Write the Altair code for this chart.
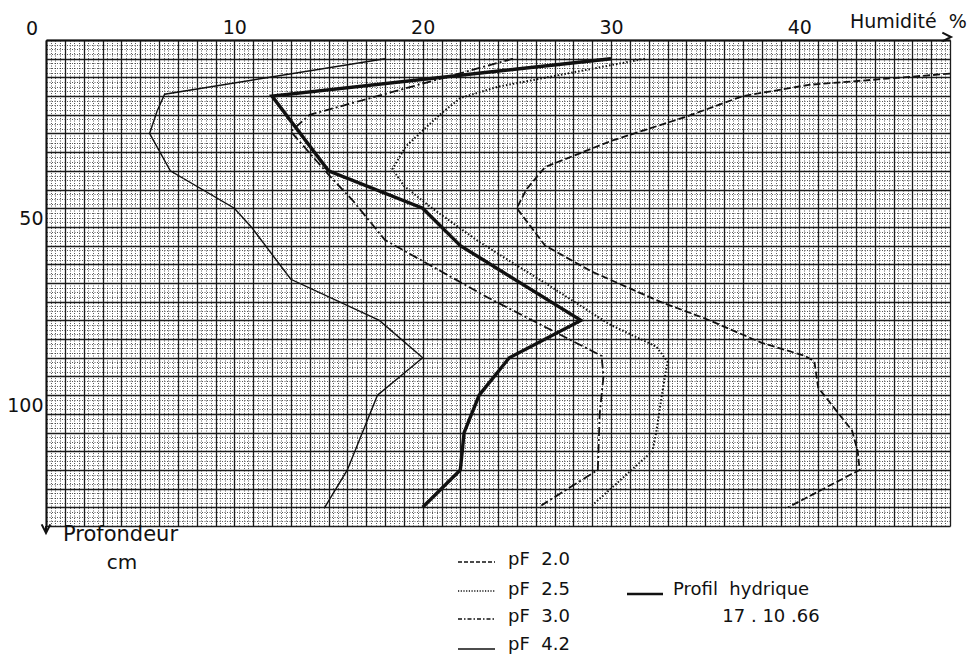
import altair as alt
import pandas as pd

# ---- data (humidity %, depth cm) ----
pf20_hum = [48, 40.5, 37, 34, 30, 26.5, 25.5, 25, 26.5, 29, 32.6, 35, 38, 40.3, 40.8, 41, 42.1, 42.8, 43.1, 43.2, 39.4]
pf20_depth = [9, 12, 15, 20.5, 27, 34, 40, 45, 55, 62, 70, 74.5, 81, 84.5, 86, 93, 100, 104.5, 110, 115, 125]

pf25_hum = [31.8, 24, 22, 20.9, 19.1, 18.4, 19, 20.5, 23, 26.5, 29.9, 32.4, 33, 32.7, 32.4, 32.2, 29]
pf25_depth = [5, 12.5, 15.5, 20, 28.5, 34.5, 39, 45, 54, 65, 76, 82, 86, 95, 105, 110, 124.5]

pf30_hum = [24.8, 14, 13, 15, 16.3, 18, 23.5, 29.5, 29.6, 29.4, 29.3, 26.3]
pf30_depth = [5, 20, 24.5, 36, 43, 53.5, 69, 84.5, 90, 100, 115, 124.5]

pf42_hum = [18, 6.3, 5.9, 5.5, 6.6, 10, 10.9, 13, 17.7, 20, 17.6, 16, 14.8]
pf42_depth = [5, 14.5, 19, 25, 35, 45, 50, 64, 75, 85, 95, 115, 125]

profil_hum = [30, 12, 15, 20, 22, 28.4, 24.6, 23, 22.2, 22, 20]
profil_depth = [5, 15, 35, 45, 55, 75, 85, 95, 105, 115, 125]

x_major = list(range(0, 49))
y_major = list(range(0, 131, 5))
x_labels = [10, 20, 30, 40]
y_labels = [50, 100]

NB = "\u00a0"
legend_names = ["pF" + NB * 2 + "2.0", "pF" + NB * 2 + "2.5", "pF" + NB * 2 + "3.0", "pF" + NB * 2 + "4.2"]
profil_name = ["Profil" + NB * 2 + "hydrique", "17" + NB + "." + NB + "10" + NB + ".66"]
x_title = "Humidité" + NB * 2 + "%"
y_title = ["Profondeur", "cm"]

INK = "#111111"
FONT = "DejaVu Sans"
W, H = 904, 486

X = alt.Scale(domain=[0, 48], nice=False, zero=False)
Y = alt.Scale(domain=[0, 130], nice=False, zero=False, reverse=True)


def frame(hum, depth):
    return pd.DataFrame({"hum": hum, "depth": depth, "i": list(range(len(hum)))})


one = pd.DataFrame({"a": [0]})

label_expr_x = "(" + " || ".join(f"datum.value == {v}" for v in x_labels) + ") ? datum.label : ''"
label_expr_y = "(" + " || ".join(f"datum.value == {v}" for v in y_labels) + ") ? datum.label : ''"

main_x_axis = alt.Axis(
    orient="top", values=x_major, grid=True, gridColor=INK, gridWidth=1.3, gridOpacity=0.95,
    domain=True, domainColor=INK, domainWidth=2, ticks=False,
    labelExpr=label_expr_x,
    labelFont=FONT, labelFontSize=19, labelColor=INK, labelPadding=3,
    labelOverlap=False, labelFlush=False, title=None,
)
main_y_axis = alt.Axis(
    orient="left", values=y_major, grid=True, gridColor=INK, gridWidth=1.3, gridOpacity=0.95,
    domain=True, domainColor=INK, domainWidth=2, ticks=False,
    labelExpr=label_expr_y,
    labelFont=FONT, labelFontSize=19, labelColor=INK, labelPadding=3,
    labelBaseline="bottom", labelOffset=2,
    labelOverlap=False, labelFlush=False, title=None,
)
minor_x_axis = alt.Axis(
    orient="bottom", values=[i / 4 for i in range(0, 193) if i % 4],
    grid=True, gridColor="#222222", gridWidth=1, gridDash=[1, 1.5], gridOpacity=0.75,
    labels=False, ticks=False, domain=False, title=None,
)
minor_y_axis = alt.Axis(
    orient="right", values=[i * 1.25 for i in range(0, 105) if i % 4],
    grid=True, gridColor="#222222", gridWidth=1, gridDash=[1, 1.5], gridOpacity=0.75,
    labels=False, ticks=False, domain=False, title=None,
)


def curve(hum, depth, width, dash=None, xaxis=None, yaxis=None, opacity=1):
    kw = {"strokeDash": dash} if dash else {}
    return alt.Chart(frame(hum, depth)).mark_line(
        color=INK, strokeWidth=width, opacity=opacity, **kw
    ).encode(
        x=alt.X("hum:Q", scale=X, axis=xaxis),
        y=alt.Y("depth:Q", scale=Y, axis=yaxis),
        order=alt.Order("i:Q"),
    )


grid_layer = curve(pf42_hum, pf42_depth, 1, xaxis=minor_x_axis, yaxis=minor_y_axis, opacity=0)
l20 = curve(pf20_hum, pf20_depth, 1.8, dash=[7, 3], xaxis=main_x_axis, yaxis=main_y_axis)
l25 = curve(pf25_hum, pf25_depth, 2, dash=[1.5, 2])
l30 = curve(pf30_hum, pf30_depth, 1.8, dash=[9, 3, 2, 3])
l42 = curve(pf42_hum, pf42_depth, 1.4)
lpr = curve(profil_hum, profil_depth, 3.4)


def txt(s, x, y, size, align="left", baseline="alphabetic"):
    return alt.Chart(one).mark_text(
        text=s, font=FONT, fontSize=size, color=INK, align=align, baseline=baseline
    ).encode(x=alt.value(x), y=alt.value(y))


def rule(x1, x2, y1, y2, width, dash=None):
    kw = {"strokeDash": dash} if dash else {}
    return alt.Chart(one).mark_rule(color=INK, strokeWidth=width, **kw).encode(
        x=alt.value(x1), x2=alt.value(x2), y=alt.value(y1), y2=alt.value(y2)
    )


def arrow(x, y, path):
    return alt.Chart(one).mark_point(
        shape=path, filled=False, stroke=INK, strokeWidth=2, size=300, opacity=1
    ).encode(x=alt.value(x), y=alt.value(y))


texts = [
    txt("0", -14, -5, 19, align="center"),
    txt(x_title, 804, -12, 19),
    txt(y_title[0], 17, 501, 21),
    txt(y_title[1], 76, 529, 20, align="center"),
]
arrows = [
    rule(0, 0, H, H + 6, 2),
    arrow(W + 1, -3, "M -1 -0.5 L 0 0 L -1 0.5"),
    arrow(0, H + 7, "M -0.5 -1 L 0 0 L 0.5 -1"),
]

row_y = [525, 555, 582, 610]
sample_y = [522, 551, 579, 609]
dashes = [[4, 2], [1.2, 1.5], [4, 2, 1.5, 2], None]
legend = []
for name, ty, sy, d in zip(legend_names, row_y, sample_y, dashes):
    legend.append(txt(name, 462, ty, 18))
    legend.append(rule(412, 449, sy, sy, 1.5, d))
legend.append(rule(581, 617, 554, 554, 2.4))
legend.append(txt(profil_name[0], 627, 555, 18))
legend.append(txt(profil_name[1], 725, 582, 18, align="center"))

chart = alt.layer(
    grid_layer, l20, l25, l30, l42, lpr, *texts, *arrows, *legend
).resolve_axis(
    x="independent", y="independent"
).properties(
    width=W, height=H,
    padding={"left": 46, "top": 40, "right": 27, "bottom": 129},
    autosize=alt.AutoSizeParams(type="none"),
    background="white",
).configure_view(stroke=None)

chart.save("out.html", embed_options={"renderer": "svg", "actions": False})
